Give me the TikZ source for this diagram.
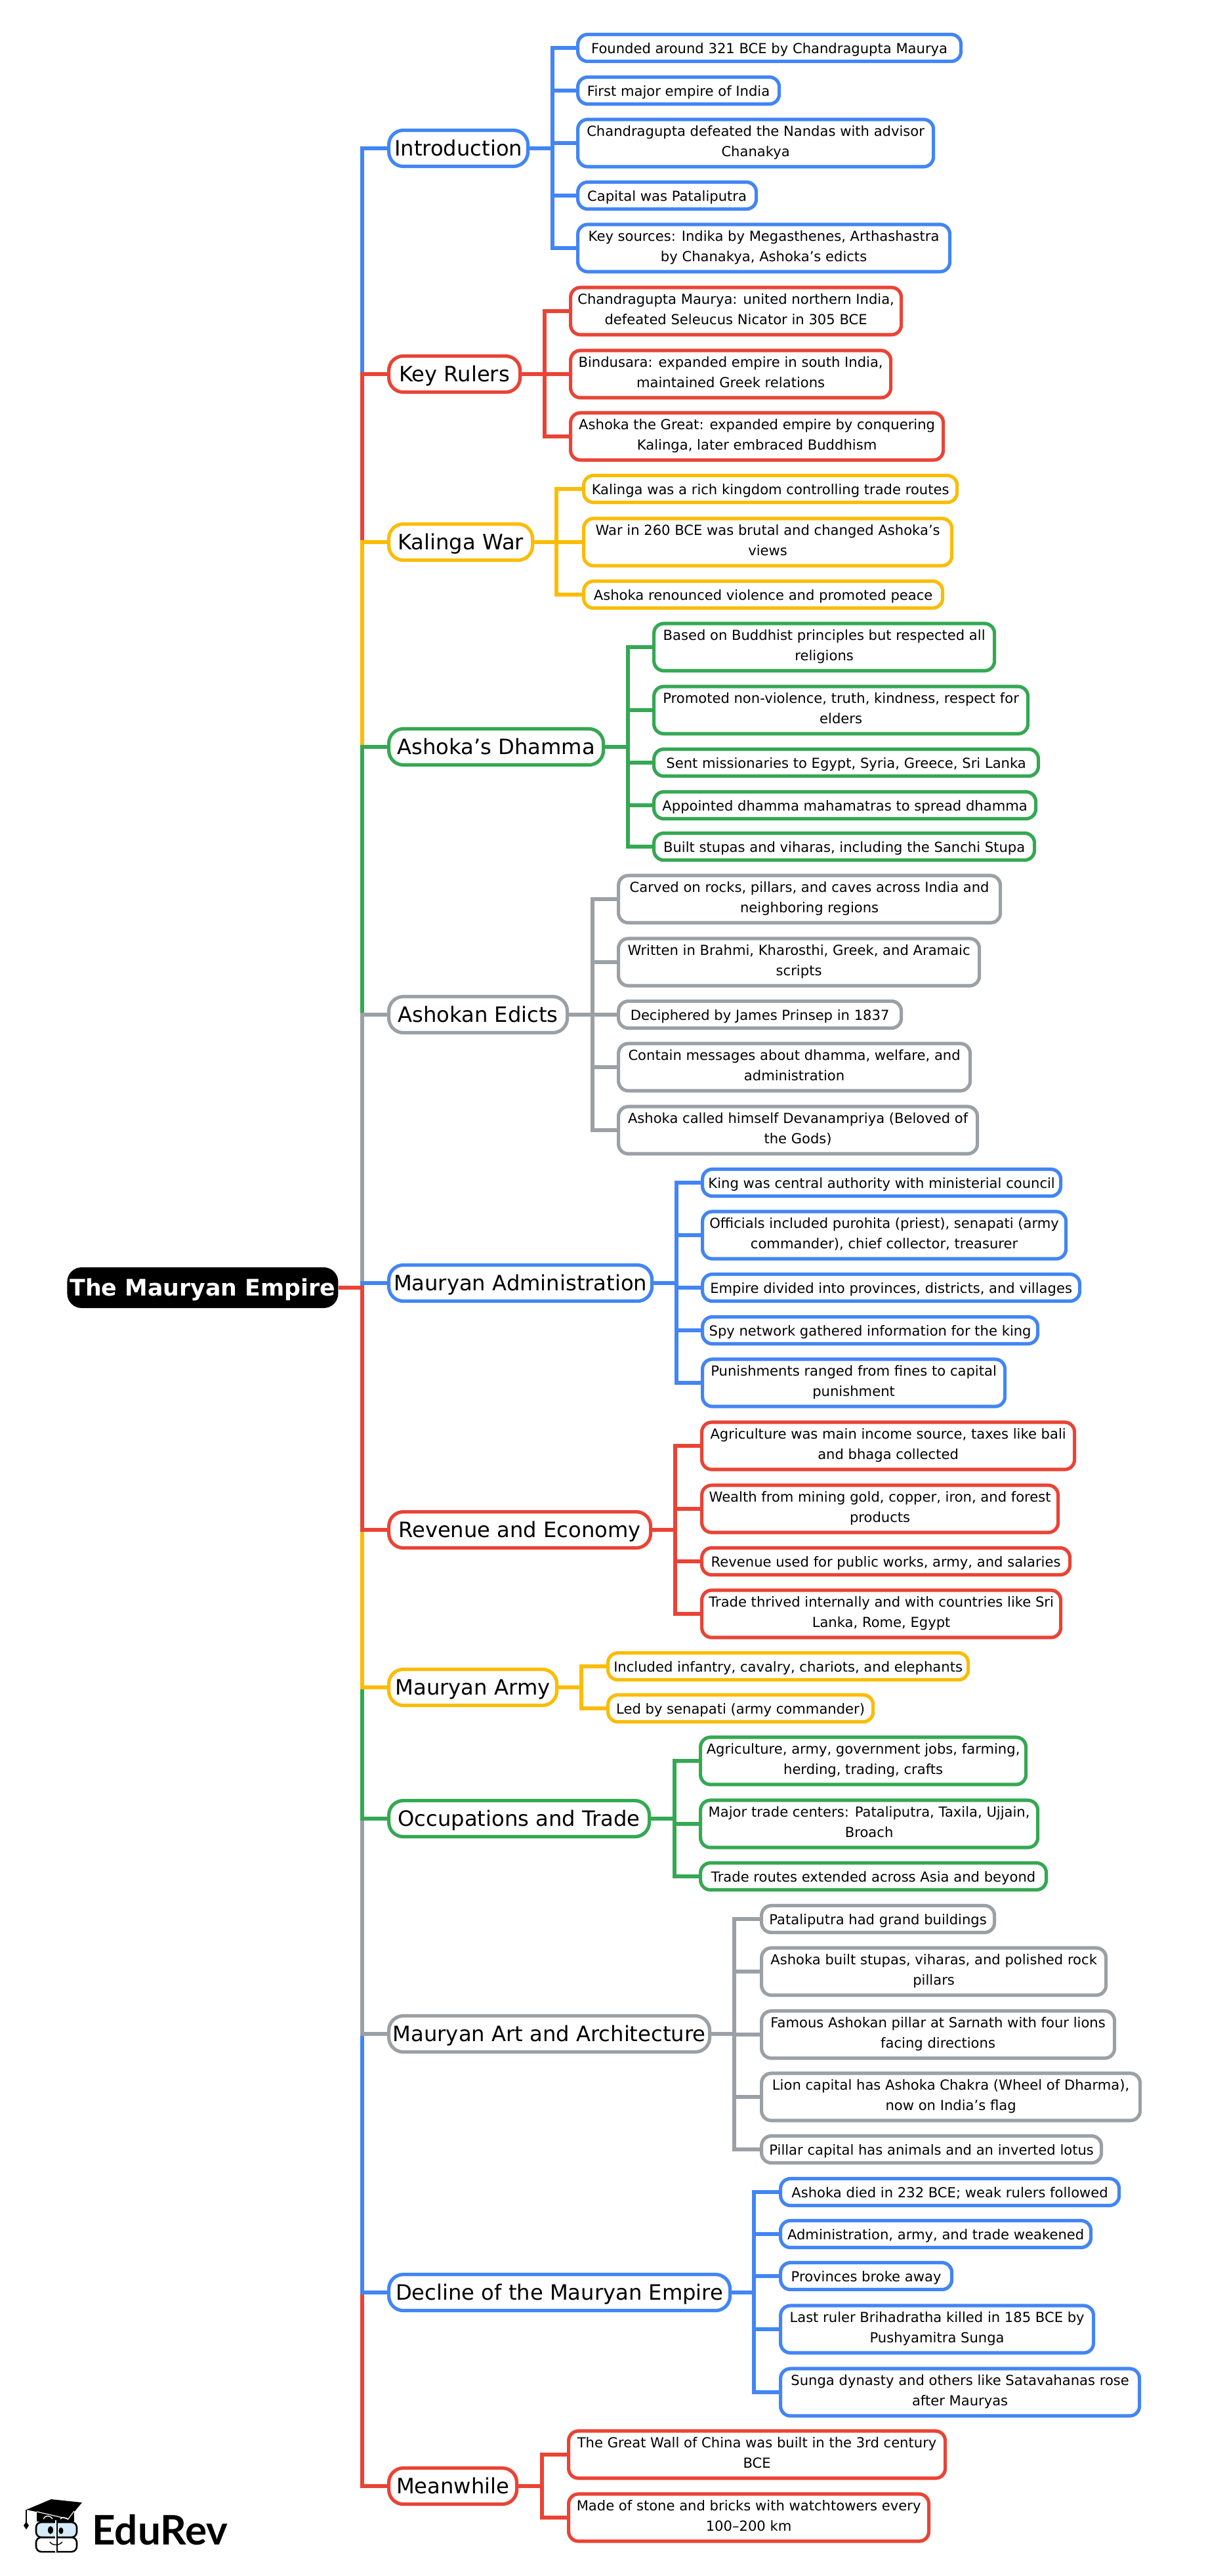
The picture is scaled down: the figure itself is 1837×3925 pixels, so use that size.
\documentclass[tikz,border=0pt]{standalone}
\usepackage{fontspec}
\setmainfont{DejaVu Sans}
\newfontfamily\brandfont{Lato}
\usetikzlibrary{positioning}
\definecolor{mapblue}{RGB}{66,133,244}
\definecolor{mapred}{RGB}{234,67,53}
\definecolor{mapyellow}{RGB}{251,188,5}
\definecolor{mapgreen}{RGB}{52,168,83}
\definecolor{mapgray}{RGB}{154,160,166}
\definecolor{lens}{RGB}{213,235,250}
\begin{document}
\begin{tikzpicture}[x=0.5pt,y=-0.5pt,
		box/.style={rectangle,anchor=west,fill=white,line width=2.6pt,inner sep=0pt,align=center},
		leaf/.style={box,rounded corners=7.5pt,minimum height=20.5pt,font=\fontsize{10.55}{15.5}\selectfont,execute at begin node={\rule{0pt}{12pt}},execute at end node={\rule[-3.3pt]{0pt}{3.3pt}}},
		tall/.style={leaf,minimum height=36pt},
		branch/.style={box,rounded corners=11pt,minimum height=27.5pt,font=\fontsize{16.1}{24}\selectfont,execute at begin node={\rule{0pt}{18pt}},execute at end node={\rule[-7pt]{0pt}{7pt}}},
		top/.style={anchor=west,fill=black,text=white,rounded corners=11pt,inner sep=0pt,font=\fontsize{17.4}{24}\selectfont\bfseries,execute at begin node={\rule{0pt}{18pt}},execute at end node={\rule[-6pt]{0pt}{6pt}}},
		link/.style={line width=2.8pt},
		bluelink/.style={link,draw=mapblue},
		redlink/.style={link,draw=mapred},
		yellowlink/.style={link,draw=mapyellow},
		greenlink/.style={link,draw=mapgreen},
		graylink/.style={link,draw=mapgray}]
	\useasboundingbox (0,0) rectangle (1837,3925);

	\node [top,minimum width=206.5pt,minimum height=31pt] (root) at (102,1962) {The Mauryan Empire};
	\coordinate (trunk) at (552,1962);

	\node [branch,draw=mapblue,minimum width=106pt] (intro) at (590,226) {Introduction};
	\node [leaf,draw=mapblue,minimum width=292pt] (a1) at (878,73) {Founded around 321 BCE by Chandragupta Maurya};
	\node [leaf,draw=mapblue,minimum width=153.5pt] (a2) at (878,138) {First major empire of India};
	\node [tall,draw=mapblue,minimum width=271pt] (a3) at (878,218) {Chandragupta defeated the Nandas with advisor\\Chanakya};
	\node [leaf,draw=mapblue,minimum width=136pt] (a4) at (878,298) {Capital was Pataliputra};
	\node [tall,draw=mapblue,minimum width=283.5pt] (a5) at (878,378) {Key sources: Indika by Megasthenes, Arthashastra\\by Chanakya, Ashoka’s edicts};
	\coordinate (busa) at (842,226);
	\draw [bluelink] (intro.east) -- (busa) |- (a1.west);
	\draw [bluelink] (busa) |- (a2.west);
	\draw [bluelink] (busa) |- (a3.west);
	\draw [bluelink] (busa) |- (a4.west);
	\draw [bluelink] (busa) |- (a5.west);

	\node [branch,draw=mapred,minimum width=100pt] (rulers) at (590,570) {Key Rulers};
	\node [tall,draw=mapred,minimum width=252pt] (k1) at (867,474) {Chandragupta Maurya: united northern India,\\defeated Seleucus Nicator in 305 BCE};
	\node [tall,draw=mapred,minimum width=244pt] (k2) at (867,570) {Bindusara: expanded empire in south India,\\maintained Greek relations};
	\node [tall,draw=mapred,minimum width=284pt] (k3) at (867,665) {Ashoka the Great: expanded empire by conquering\\Kalinga, later embraced Buddhism};
	\coordinate (busk) at (830,570);
	\draw [redlink] (rulers.east) -- (k2.west);
	\draw [redlink] (busk) |- (k1.west);
	\draw [redlink] (busk) |- (k3.west);

	\node [branch,draw=mapyellow,minimum width=109.5pt] (kalinga) at (590,826) {Kalinga War};
	\node [leaf,draw=mapyellow,minimum width=284.5pt] (l1) at (887,745) {Kalinga was a rich kingdom controlling trade routes};
	\node [tall,draw=mapyellow,minimum width=280.5pt] (l2) at (887,826) {War in 260 BCE was brutal and changed Ashoka’s\\views};
	\node [leaf,draw=mapyellow,minimum width=273.5pt] (l3) at (887,906) {Ashoka renounced violence and promoted peace};
	\coordinate (busl) at (848,826);
	\draw [yellowlink] (kalinga.east) -- (l2.west);
	\draw [yellowlink] (busl) |- (l1.west);
	\draw [yellowlink] (busl) |- (l3.west);

	\node [branch,draw=mapgreen,minimum width=163.5pt] (dhamma) at (590,1138) {Ashoka’s Dhamma};
	\node [tall,draw=mapgreen,minimum width=259.5pt] (d1) at (994,986) {Based on Buddhist principles but respected all\\religions};
	\node [tall,draw=mapgreen,minimum width=285pt] (d2) at (994,1082) {Promoted non-violence, truth, kindness, respect for\\elders};
	\node [leaf,draw=mapgreen,minimum width=293pt] (d3) at (994,1162) {Sent missionaries to Egypt, Syria, Greece, Sri Lanka};
	\node [leaf,draw=mapgreen,minimum width=291pt] (d4) at (994,1227) {Appointed dhamma mahamatras to spread dhamma};
	\node [leaf,draw=mapgreen,minimum width=290pt] (d5) at (994,1290) {Built stupas and viharas, including the Sanchi Stupa};
	\coordinate (busd) at (957,1138);
	\draw [greenlink] (dhamma.east) -- (busd) |- (d1.west);
	\draw [greenlink] (busd) |- (d2.west);
	\draw [greenlink] (busd) |- (d3.west);
	\draw [greenlink] (busd) |- (d4.west);
	\draw [greenlink] (busd) |- (d5.west);

	\node [branch,draw=mapgray,minimum width=136pt] (edicts) at (590,1546) {Ashokan Edicts};
	\node [tall,draw=mapgray,minimum width=291pt] (e1) at (940,1370) {Carved on rocks, pillars, and caves across India and\\neighboring regions};
	\node [tall,draw=mapgray,minimum width=275pt] (e2) at (940,1466) {Written in Brahmi, Kharosthi, Greek, and Aramaic\\scripts};
	\node [leaf,draw=mapgray,minimum width=215.5pt] (e3) at (940,1546) {Deciphered by James Prinsep in 1837};
	\node [tall,draw=mapgray,minimum width=268pt] (e4) at (940,1626) {Contain messages about dhamma, welfare, and\\administration};
	\node [tall,draw=mapgray,minimum width=273.5pt] (e5) at (940,1722) {Ashoka called himself Devanampriya (Beloved of\\the Gods)};
	\coordinate (buse) at (903,1546);
	\draw [graylink] (edicts.east) -- (e3.west);
	\draw [graylink] (buse) |- (e1.west);
	\draw [graylink] (buse) |- (e2.west);
	\draw [graylink] (buse) |- (e4.west);
	\draw [graylink] (buse) |- (e5.west);

	\node [branch,draw=mapblue,minimum width=200.5pt] (admin) at (590,1955) {Mauryan Administration};
	\node [leaf,draw=mapblue,minimum width=273pt] (s1) at (1068,1802) {King was central authority with ministerial council};
	\node [tall,draw=mapblue,minimum width=277pt] (s2) at (1068,1882) {Officials included purohita (priest), senapati (army\\commander), chief collector, treasurer};
	\node [leaf,draw=mapblue,minimum width=287.5pt] (s3) at (1068,1962) {Empire divided into provinces, districts, and villages};
	\node [leaf,draw=mapblue,minimum width=255.5pt] (s4) at (1068,2027) {Spy network gathered information for the king};
	\node [tall,draw=mapblue,minimum width=230.5pt] (s5) at (1068,2107) {Punishments ranged from fines to capital\\punishment};
	\coordinate (buss) at (1031,1955);
	\draw [bluelink] (admin.east) -- (buss) |- (s1.west);
	\draw [bluelink] (buss) |- (s2.west);
	\draw [bluelink] (buss) |- (s3.west);
	\draw [bluelink] (buss) |- (s4.west);
	\draw [bluelink] (buss) |- (s5.west);

	\node [branch,draw=mapred,minimum width=199.5pt] (revenue) at (590,2331) {Revenue and Economy};
	\node [tall,draw=mapred,minimum width=284pt] (r1) at (1067,2203) {Agriculture was main income source, taxes like bali\\and bhaga collected};
	\node [tall,draw=mapred,minimum width=271.5pt] (r2) at (1067,2299) {Wealth from mining gold, copper, iron, and forest\\products};
	\node [leaf,draw=mapred,minimum width=280.5pt] (r3) at (1067,2379) {Revenue used for public works, army, and salaries};
	\node [tall,draw=mapred,minimum width=273.5pt] (r4) at (1067,2459) {Trade thrived internally and with countries like Sri\\Lanka, Rome, Egypt};
	\coordinate (busr) at (1029,2331);
	\draw [redlink] (revenue.east) -- (busr) |- (r1.west);
	\draw [redlink] (busr) |- (r2.west);
	\draw [redlink] (busr) |- (r3.west);
	\draw [redlink] (busr) |- (r4.west);

	\node [branch,draw=mapyellow,minimum width=128pt] (army) at (590,2571) {Mauryan Army};
	\node [leaf,draw=mapyellow,minimum width=274.5pt] (m1) at (924,2539) {Included infantry, cavalry, chariots, and elephants};
	\node [leaf,draw=mapyellow,minimum width=202pt] (m2) at (924,2603) {Led by senapati (army commander)};
	\coordinate (busm) at (886,2571);
	\draw [yellowlink] (army.east) -- (busm) |- (m1.west);
	\draw [yellowlink] (busm) |- (m2.west);

	\node [branch,draw=mapgreen,minimum width=198.5pt] (trade) at (590,2771) {Occupations and Trade};
	\node [tall,draw=mapgreen,minimum width=248pt] (o1) at (1065,2683) {Agriculture, army, government jobs, farming,\\herding, trading, crafts};
	\node [tall,draw=mapgreen,minimum width=257pt] (o2) at (1065,2779) {Major trade centers: Pataliputra, Taxila, Ujjain,\\Broach};
	\node [leaf,draw=mapgreen,minimum width=263.5pt] (o3) at (1065,2859) {Trade routes extended across Asia and beyond};
	\coordinate (buso) at (1028,2771);
	\draw [greenlink] (trade.east) -- (buso) |- (o1.west);
	\draw [greenlink] (buso) |- (o2.west);
	\draw [greenlink] (buso) |- (o3.west);

	\node [branch,draw=mapgray,minimum width=244.5pt] (art) at (590,3099) {Mauryan Art and Architecture};
	\node [leaf,draw=mapgray,minimum width=177.5pt] (t1) at (1158,2924) {Pataliputra had grand buildings};
	\node [tall,draw=mapgray,minimum width=262.5pt] (t2) at (1158,3004) {Ashoka built stupas, viharas, and polished rock\\pillars};
	\node [tall,draw=mapgray,minimum width=269pt] (t3) at (1158,3100) {Famous Ashokan pillar at Sarnath with four lions\\facing directions};
	\node [tall,draw=mapgray,minimum width=288.5pt] (t4) at (1158,3195) {Lion capital has Ashoka Chakra (Wheel of Dharma),\\now on India’s flag};
	\node [leaf,draw=mapgray,minimum width=259pt] (t5) at (1158,3275) {Pillar capital has animals and an inverted lotus};
	\coordinate (bust) at (1119,3099);
	\draw [graylink] (art.east) -- (bust) |- (t1.west);
	\draw [graylink] (bust) |- (t2.west);
	\draw [graylink] (bust) |- (t3.west);
	\draw [graylink] (bust) |- (t4.west);
	\draw [graylink] (bust) |- (t5.west);

	\node [branch,draw=mapblue,minimum width=260pt] (decline) at (590,3493) {Decline of the Mauryan Empire};
	\node [leaf,draw=mapblue,minimum width=258pt] (x1) at (1187,3340) {Ashoka died in 232 BCE; weak rulers followed};
	\node [leaf,draw=mapblue,minimum width=236.5pt] (x2) at (1187,3404) {Administration, army, and trade weakened};
	\node [leaf,draw=mapblue,minimum width=130.5pt] (x3) at (1187,3468) {Provinces broke away};
	\node [tall,draw=mapblue,minimum width=238.5pt] (x4) at (1187,3549) {Last ruler Brihadratha killed in 185 BCE by\\Pushyamitra Sunga};
	\node [tall,draw=mapblue,minimum width=273.5pt] (x5) at (1187,3645) {Sunga dynasty and others like Satavahanas rose\\after Mauryas};
	\coordinate (busx) at (1149,3493);
	\draw [bluelink] (decline.east) -- (busx) |- (x1.west);
	\draw [bluelink] (busx) |- (x2.west);
	\draw [bluelink] (busx) |- (x3.west);
	\draw [bluelink] (busx) |- (x4.west);
	\draw [bluelink] (busx) |- (x5.west);

	\node [branch,draw=mapred,minimum width=97.5pt] (meanwhile) at (590,3788) {Meanwhile};
	\node [tall,draw=mapred,minimum width=287pt] (w1) at (864,3740) {The Great Wall of China was built in the 3rd century\\BCE};
	\node [tall,draw=mapred,minimum width=274.5pt] (w2) at (864,3836) {Made of stone and bricks with watchtowers every\\100–200 km};
	\coordinate (busw) at (826,3788);
	\draw [redlink] (meanwhile.east) -- (busw) |- (w1.west);
	\draw [redlink] (busw) |- (w2.west);

	\draw [bluelink] (root.east) -- (trunk) |- (intro.west);
	\draw [redlink] (trunk) |- (rulers.west);
	\draw [yellowlink] (trunk) |- (kalinga.west);
	\draw [greenlink] (trunk) |- (dhamma.west);
	\draw [graylink] (trunk) |- (edicts.west);
	\draw [bluelink] (trunk) |- (admin.west);
	\draw [redlink] (trunk) |- (meanwhile.west);
	\draw [bluelink] (trunk) |- (decline.west);
	\draw [graylink] (trunk) |- (art.west);
	\draw [greenlink] (trunk) |- (trade.west);
	\draw [yellowlink] (trunk) |- (army.west);
	\draw [redlink] (root.east) -- (trunk) |- (revenue.west);

	\fill [black] (56,3826) -- (56,3842) -- (113,3842) -- (113,3826) -- cycle;
	\fill [black] (40,3824) -- (78,3808) -- (125,3813) -- (105,3837) -- cycle;
	\draw [white,line width=0.6pt] (56,3827) -- (104,3838) -- (113,3826);
	\draw [white,line width=0.7pt] (66,3838) .. controls (69,3832) and (76,3832) .. (80,3838);
	\draw [white,line width=0.7pt] (92,3838) .. controls (94,3835) and (100,3835) .. (104,3839);
	\draw [black,line width=0.7pt] (40,3824) -- (40,3843);
	\fill [black] (40,3842) -- (36,3848) -- (40,3854) -- (44,3848) -- cycle;
	\draw [black,fill=lens,line width=1.3pt,rounded corners=4pt] (55,3843) rectangle (117,3866);
	\draw [black,line width=1.3pt,rounded corners=4pt] (55,3866) rectangle (117,3888);
	\draw [white,line width=1.5pt] (85,3889) -- (85,3840);
	\draw [black,line width=0.9pt] (87,3889) -- (87,3840);
	\fill [black] (77,3855) ellipse [x radius=4,y radius=6];
	\fill [black] (93,3856) ellipse [x radius=3.5,y radius=5];
	\draw [black,line width=0.7pt] (76,3873) .. controls (80,3879) and (90,3879) .. (95,3873);

	\node [anchor=base west,inner sep=0pt,font=\fontsize{31}{32}\selectfont\brandfont\bfseries] (brand) at (140,3877) {EduRev};
\end{tikzpicture}
\end{document}
